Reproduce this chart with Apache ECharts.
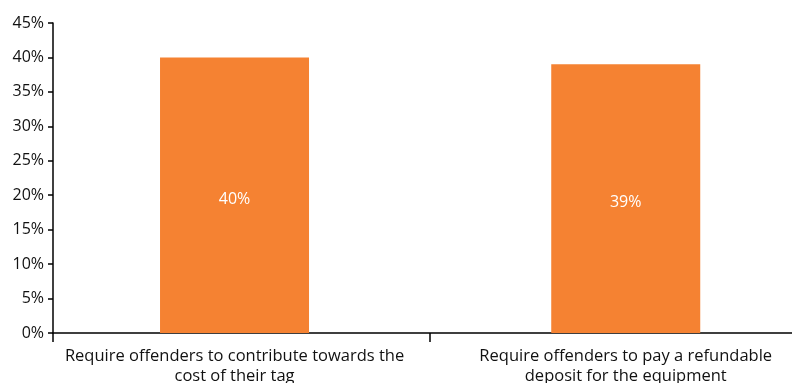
<!DOCTYPE html>
<html>
<head>
<meta charset="utf-8">
<script src="https://cdn.jsdelivr.net/npm/echarts@6/dist/echarts.min.js"></script>
<style>
  html, body { margin: 0; padding: 0; background: #fff; }
  #chart { width: 792px; height: 383px; }
</style>
</head>
<body>
<div id="chart"></div>
<script>
// Survey options and share of respondents choosing each
const categories = [
  'Require offenders to contribute towards the\ncost of their tag',
  'Require offenders to pay a refundable\ndeposit for the equipment'
];
const values = [40, 39];
const yMax = 45;
const yStep = 5;

const FONT = '"Open Sans", "Liberation Sans", sans-serif';
const chart = echarts.init(document.getElementById('chart'), null, { renderer: 'canvas' });

chart.setOption({
  animation: false,
  backgroundColor: '#ffffff',
  grid: {
    left: 53, right: 0, top: 23, bottom: 50,
    containLabel: false,
    outerBoundsMode: 'none'
  },
  xAxis: {
    type: 'value',
    min: -0.464,
    max: 1.425,
    splitLine: { show: false },
    axisLine: { show: true, onZero: false, lineStyle: { color: '#000', width: 1.5 } },
    axisTick: {
      show: true,
      customValues: [-0.464, 0.5],
      length: 9,
      lineStyle: { color: '#000', width: 1.5 }
    },
    axisLabel: {
      customValues: [0, 1],
      formatter: v => categories[Math.round(v)],
      color: '#111',
      fontFamily: FONT,
      fontSize: 16.5,
      lineHeight: 20,
      margin: 13,
      align: 'center'
    }
  },
  yAxis: {
    type: 'value',
    min: 0,
    max: yMax,
    interval: yStep,
    splitLine: { show: false },
    axisLine: { show: true, onZero: false, lineStyle: { color: '#000', width: 1.5 } },
    axisTick: { show: true, length: 5, lineStyle: { color: '#000', width: 1.5 } },
    axisLabel: {
      formatter: '{value}%',
      color: '#111',
      fontFamily: FONT,
      fontSize: 16,
      margin: 9
    }
  },
  series: [{
    type: 'bar',
    barWidth: 149,
    data: values.map((v, i) => [i, v]),
    itemStyle: { color: '#F58232' },
    label: {
      show: true,
      position: 'inside',
      offset: [0, 4],
      color: '#ffffff',
      fontFamily: FONT,
      fontSize: 16,
      formatter: p => p.value[1] + '%'
    }
  }]
});
</script>
</body>
</html>
